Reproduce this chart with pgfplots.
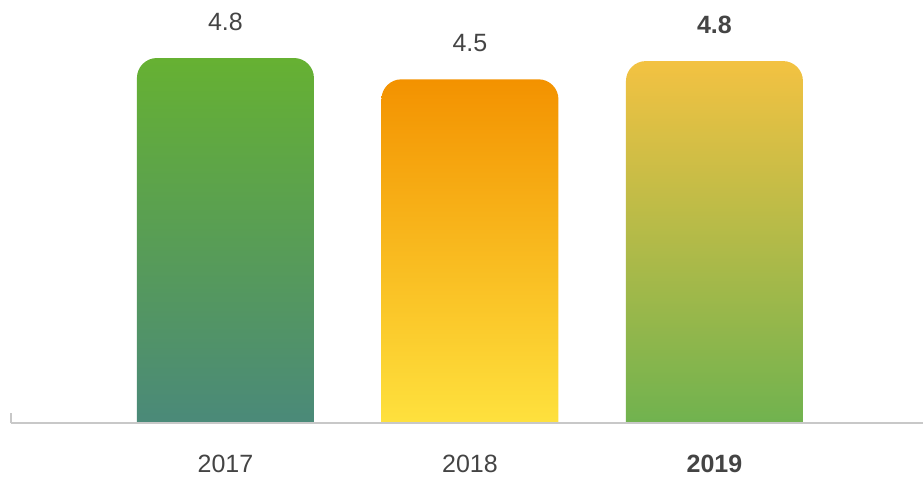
\documentclass[border=0pt]{standalone}
\usepackage{pgfplots}
\pgfplotsset{compat=1.18}
\usepackage{fontspec}
\setmainfont{Liberation Sans}
\definecolor{txt}{HTML}{444444}
\definecolor{axl}{HTML}{C8C8C8}
\definecolor{gA}{HTML}{66B132}
\definecolor{gB}{HTML}{48867F}
\definecolor{oA}{HTML}{F39200}
\definecolor{oB}{HTML}{FFE843}
\definecolor{yA}{HTML}{F3C242}
\definecolor{yB}{HTML}{65B150}
\pgfplotsset{
  topbar/.style={ybar, bar width=177pt, bar shift=0pt, draw=none, rounded corners=20pt, shading=axis,
    point meta=explicit symbolic, nodes near coords},
}
\begin{document}
\begin{tikzpicture}
\path[use as bounding box] (0,0) rectangle (923pt,477pt);
\begin{scope}
\clip (0pt,54pt) rectangle (923pt,477pt);
\begin{axis}[
  at={(11pt,23.58pt)}, anchor=south west,
  scale only axis,
  width=912pt, height=453.42pt,
  xmin=-0.877, xmax=2.853,
  y coord trafo/.code={\pgfmathparse{#1+0.4}},
  y coord inv trafo/.code={\pgfmathparse{#1-0.4}},
  ymin=-0.4, ymax=5.563,
  hide axis,
  clip=false,
  nodes near coords style={font=\fontsize{25}{29}\selectfont, text=txt, anchor=center, yshift=36pt},
]
\addplot[topbar, top color=gA, bottom color=gB] coordinates {(0,4.8) [4.8]};
\addplot[topbar, top color=oA, bottom color=oB] coordinates {(1,4.52) [4.5]};
\addplot[topbar, top color=yA, bottom color=yB,
  nodes near coords style={font=\fontsize{25}{29}\selectfont\bfseries}] coordinates {(2,4.76) [4.8]};
\end{axis}
\end{scope}
\begin{axis}[
  at={(11pt,54pt)}, anchor=south west,
  scale only axis,
  width=912pt, height=423pt,
  xmin=-0.877, xmax=2.853,
  ymin=0, ymax=5.563,
  axis x line=bottom,
  axis y line=none,
  axis line style={draw=axl, line width=1.3pt, -},
  xtick={0,1,2},
  xticklabels={2017,2018,\textbf{2019}},
  major tick length=0pt,
  extra x ticks={-0.877},
  extra x tick labels={},
  extra x tick style={major tick length=10pt, tick align=inside, tick style={draw=axl, line width=1.3pt}},
  ytick=\empty,
  xticklabel style={font=\fontsize{25}{29}\selectfont, text=txt, anchor=center, yshift=-44pt},
  typeset ticklabels with strut=false,
]
\end{axis}
\end{tikzpicture}
\end{document}
